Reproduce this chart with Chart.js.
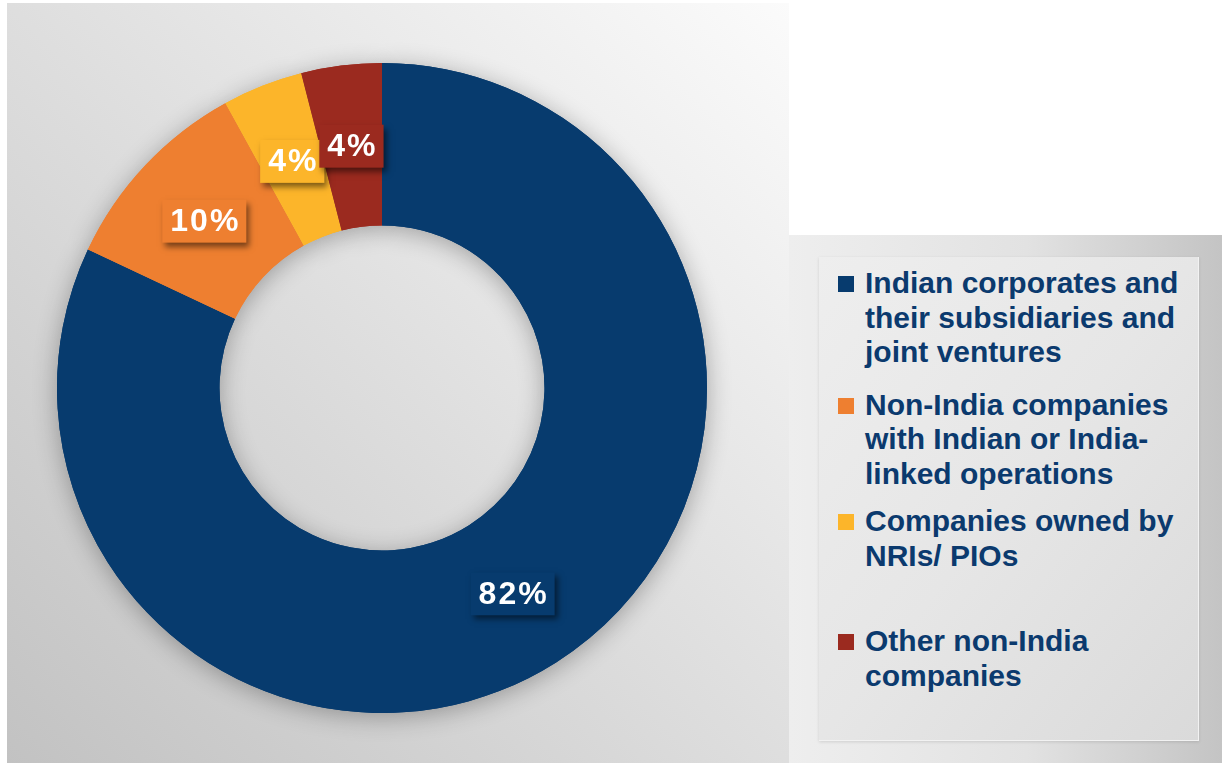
<!DOCTYPE html>
<html>
<head>
<meta charset="utf-8">
<script src="https://cdn.jsdelivr.net/npm/chart.js@4.4.1/dist/chart.umd.min.js"></script>
<style>
    html, body { margin: 0; padding: 0; background: #ffffff; }
    body { width: 1222px; height: 763px; position: relative; overflow: hidden; font-family: "Liberation Sans", Arial, sans-serif; }
    #chartPanel {
        position: absolute; left: 7px; top: 3px; width: 782px; height: 760px;
        background: linear-gradient(to top right, #c2c2c2 0%, #dedede 50%, #fbfbfb 100%);
    }
    #legendPanel {
        position: absolute; left: 789px; top: 235px; width: 433px; height: 528px;
        background: linear-gradient(to right, #eeeeee 0%, #e2e2e2 55%, #c4c4c4 100%);
    }
    #legendBox {
        position: absolute; left: 30px; top: 22px; width: 379px; height: 483px;
        background: linear-gradient(to bottom right, #eeeeee 0%, #e6e6e6 50%, #dadada 100%);
        box-shadow: 0 1px 3px rgba(0, 0, 0, 0.12);
        border-right: 1px solid #f2f2f2; border-bottom: 1px solid #f2f2f2;
    }
    #legend { position: absolute; left: 865px; top: 266px; }
    .item { position: relative; }
    .item .box { position: absolute; left: -27px; top: 10px; width: 16px; height: 16px; }
    .item .line {
        font-size: 30px; font-weight: bold; line-height: 34.5px;
        color: #0b3a6e; white-space: nowrap;
    }
</style>
</head>
<body>
<div id="chartPanel"><canvas id="chart"></canvas></div>
<div id="legendPanel"><div id="legendBox"></div></div>
<div id="legend"></div>

<script>
// categories, one entry per slice (lines as wrapped in the legend)
const categories = [
    ['Indian corporates and', 'their subsidiaries and', 'joint ventures'],
    ['Non-India companies', 'with Indian or India-', 'linked operations'],
    ['Companies owned by', 'NRIs/ PIOs'],
    ['Other non-India', 'companies']
];
// share of companies, %
const shares = [82, 10, 4, 4];

const sliceColors = ['#073b6e', '#ee7f30', '#fcb52a', '#9b2a1f'];
const itemGaps = [0, 18, 13, 51];   // extra space above each legend entry

// soft shadow behind the ring
const ringShadow = {
    id: 'ringShadow',
    beforeDatasetsDraw(chart) {
        const ctx = chart.ctx;
        ctx.save();
        ctx.shadowColor = 'rgba(0, 0, 0, 0.30)';
        ctx.shadowBlur = 24;
        ctx.shadowOffsetY = 4;
        chart.getDatasetMeta(0).data.forEach(arc => arc.draw(ctx));
        ctx.restore();
    }
};

// value boxes sitting in the middle of each slice
const valueBoxes = {
    id: 'valueBoxes',
    afterDatasetsDraw(chart) {
        const ctx = chart.ctx;
        const ds = chart.data.datasets[0];
        chart.getDatasetMeta(0).data.forEach((arc, i) => {
            const p = arc.getCenterPoint();
            const text = ds.data[i] + '%';
            ctx.save();
            ctx.font = 'bold 32px "Liberation Sans", Arial, sans-serif';
            ctx.letterSpacing = '2px';
            const w = ctx.measureText(text).width + 14;
            const h = 43;
            ctx.shadowColor = 'rgba(0, 0, 0, 0.5)';
            ctx.shadowBlur = 6;
            ctx.shadowOffsetX = 3;
            ctx.shadowOffsetY = 4;
            ctx.fillStyle = ds.backgroundColor[i];
            ctx.fillRect(p.x - w / 2, p.y - h / 2, w, h);
            ctx.shadowColor = 'transparent';
            ctx.fillStyle = '#ffffff';
            ctx.textAlign = 'center';
            ctx.textBaseline = 'middle';
            ctx.fillText(text, p.x + 1, p.y + 1);
            ctx.restore();
        });
    }
};

// html legend built from the chart's own legend items
const htmlLegend = {
    id: 'htmlLegend',
    afterUpdate(chart) {
        const container = document.getElementById('legend');
        container.innerHTML = '';
        const items = Chart.overrides.doughnut.plugins.legend.labels.generateLabels(chart);
        items.forEach((item, i) => {
            const div = document.createElement('div');
            div.className = 'item';
            div.style.marginTop = itemGaps[i] + 'px';
            const box = document.createElement('span');
            box.className = 'box';
            box.style.background = item.fillStyle;
            div.appendChild(box);
            const lines = Array.isArray(item.text) ? item.text : [item.text];
            for (const line of lines) {
                const l = document.createElement('div');
                l.className = 'line';
                l.textContent = line;
                div.appendChild(l);
            }
            container.appendChild(div);
        });
    }
};

const ctx = document.getElementById('chart').getContext('2d');

new Chart(ctx, {
    type: 'doughnut',
    data: {
        labels: categories,
        datasets: [{
            data: shares,
            backgroundColor: sliceColors,
            borderWidth: 0
        }]
    },
    options: {
        responsive: true,
        maintainAspectRatio: false,
        animation: false,
        cutout: '50%',
        layout: { padding: { left: 50, top: 60, right: 82, bottom: 50 } },
        plugins: {
            legend: { display: false },
            tooltip: { enabled: false }
        }
    },
    plugins: [ringShadow, valueBoxes, htmlLegend]
});
</script>
</body>
</html>
